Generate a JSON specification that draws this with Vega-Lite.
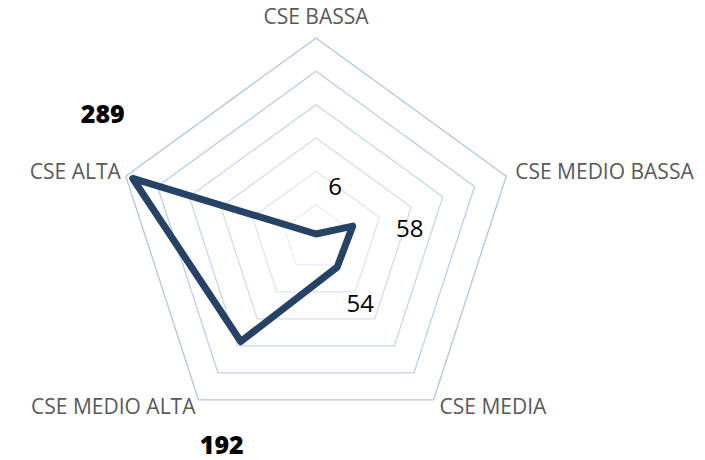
{
  "$schema": "https://vega.github.io/schema/vega-lite/v6.json",
  "width": 705,
  "height": 460,
  "padding": 0,
  "autosize": {"type": "fit", "contains": "padding"},
  "background": "white",
  "config": {"view": {"stroke": null}, "font": "Open Sans"},
  "datasets": {
    "cse": [
      {"cat": "CSE BASSA", "idx": 0, "value": 6},
      {"cat": "CSE MEDIO BASSA", "idx": 1, "value": 58},
      {"cat": "CSE MEDIA", "idx": 2, "value": 54},
      {"cat": "CSE MEDIO ALTA", "idx": 3, "value": 192},
      {"cat": "CSE ALTA", "idx": 4, "value": 289}
    ],
    "rings": [
      {"ring": 50, "k": [0, 1, 2, 3, 4]},
      {"ring": 100, "k": [0, 1, 2, 3, 4]},
      {"ring": 150, "k": [0, 1, 2, 3, 4]},
      {"ring": 200, "k": [0, 1, 2, 3, 4]},
      {"ring": 250, "k": [0, 1, 2, 3, 4]},
      {"ring": 300, "k": [0, 1, 2, 3, 4]}
    ]
  },
  "encoding": {
    "x": {"field": "x", "type": "quantitative", "scale": {"domain": [-474, 583.5], "nice": false, "zero": false}, "axis": null},
    "y": {"field": "y", "type": "quantitative", "scale": {"domain": [-333, 357], "nice": false, "zero": false}, "axis": null}
  },
  "layer": [
    {
      "data": {"name": "rings"},
      "transform": [
        {"flatten": ["k"]},
        {"calculate": "datum.k * 2 * PI / 5", "as": "a"},
        {"calculate": "datum.ring * sin(datum.a)", "as": "x"},
        {"calculate": "datum.ring * cos(datum.a)", "as": "y"}
      ],
      "mark": {"type": "line", "interpolate": "linear-closed", "strokeWidth": 1.3},
      "encoding": {
        "detail": {"field": "ring", "type": "ordinal"},
        "order": {"field": "k", "type": "quantitative"},
        "color": {"field": "ring", "type": "ordinal", "legend": null,
          "scale": {"domain": [50, 100, 150, 200, 250, 300], "range": ["#e6ecf6", "#dde5f3", "#d2ddf0", "#c8d6ed", "#bdcdea", "#b2c5e6"]}}
      }
    },
    {
      "data": {"name": "cse"},
      "transform": [
        {"calculate": "datum.idx * 2 * PI / 5", "as": "a"},
        {"calculate": "datum.value * sin(datum.a)", "as": "x"},
        {"calculate": "datum.value * cos(datum.a)", "as": "y"}
      ],
      "mark": {"type": "line", "interpolate": "linear-closed", "strokeWidth": 7, "color": "#264366", "strokeJoin": "round"},
      "encoding": {"order": {"field": "idx", "type": "quantitative"}}
    },
    {
      "data": {"name": "cse"},
      "transform": [
        {"calculate": "datum.idx * 2 * PI / 5", "as": "a"},
        {"calculate": "300 * sin(datum.a)", "as": "x"},
        {"calculate": "300 * cos(datum.a)", "as": "y"},
        {"filter": "datum.idx == 0"}
      ],
      "mark": {"type": "text", "align": "center", "baseline": "bottom", "dy": -10, "fontSize": 21, "color": "#595959"},
      "encoding": {"text": {"field": "cat"}}
    },
    {
      "data": {"name": "cse"},
      "transform": [
        {"calculate": "datum.idx * 2 * PI / 5", "as": "a"},
        {"calculate": "300 * sin(datum.a)", "as": "x"},
        {"calculate": "300 * cos(datum.a)", "as": "y"},
        {"filter": "datum.idx == 1"}
      ],
      "mark": {"type": "text", "align": "left", "baseline": "middle", "dx": 9, "dy": -3, "fontSize": 21, "color": "#595959"},
      "encoding": {"text": {"field": "cat"}}
    },
    {
      "data": {"name": "cse"},
      "transform": [
        {"calculate": "datum.idx * 2 * PI / 5", "as": "a"},
        {"calculate": "300 * sin(datum.a)", "as": "x"},
        {"calculate": "300 * cos(datum.a)", "as": "y"},
        {"filter": "datum.idx == 2"}
      ],
      "mark": {"type": "text", "align": "left", "baseline": "middle", "dx": 6, "dy": 8, "fontSize": 21, "color": "#595959"},
      "encoding": {"text": {"field": "cat"}}
    },
    {
      "data": {"name": "cse"},
      "transform": [
        {"calculate": "datum.idx * 2 * PI / 5", "as": "a"},
        {"calculate": "300 * sin(datum.a)", "as": "x"},
        {"calculate": "300 * cos(datum.a)", "as": "y"},
        {"filter": "datum.idx == 3"}
      ],
      "mark": {"type": "text", "align": "right", "baseline": "middle", "dx": -3, "dy": 8, "fontSize": 21, "color": "#595959"},
      "encoding": {"text": {"field": "cat"}}
    },
    {
      "data": {"name": "cse"},
      "transform": [
        {"calculate": "datum.idx * 2 * PI / 5", "as": "a"},
        {"calculate": "300 * sin(datum.a)", "as": "x"},
        {"calculate": "300 * cos(datum.a)", "as": "y"},
        {"filter": "datum.idx == 4"}
      ],
      "mark": {"type": "text", "align": "right", "baseline": "middle", "dx": -5, "dy": -3, "fontSize": 21, "color": "#595959"},
      "encoding": {"text": {"field": "cat"}}
    },
    {
      "data": {"name": "cse"},
      "transform": [
        {"calculate": "datum.idx * 2 * PI / 5", "as": "a"},
        {"calculate": "datum.value * sin(datum.a)", "as": "x"},
        {"calculate": "datum.value * cos(datum.a)", "as": "y"},
        {"filter": "datum.idx == 0"}
      ],
      "mark": {"type": "text", "align": "center", "baseline": "middle", "dx": 19, "dy": -46, "fontSize": 24, "color": "#000000"},
      "encoding": {"text": {"field": "value"}}
    },
    {
      "data": {"name": "cse"},
      "transform": [
        {"calculate": "datum.idx * 2 * PI / 5", "as": "a"},
        {"calculate": "datum.value * sin(datum.a)", "as": "x"},
        {"calculate": "datum.value * cos(datum.a)", "as": "y"},
        {"filter": "datum.idx == 1"}
      ],
      "mark": {"type": "text", "align": "center", "baseline": "middle", "dx": 57, "dy": 4, "fontSize": 24, "color": "#000000"},
      "encoding": {"text": {"field": "value"}}
    },
    {
      "data": {"name": "cse"},
      "transform": [
        {"calculate": "datum.idx * 2 * PI / 5", "as": "a"},
        {"calculate": "datum.value * sin(datum.a)", "as": "x"},
        {"calculate": "datum.value * cos(datum.a)", "as": "y"},
        {"filter": "datum.idx == 2"}
      ],
      "mark": {"type": "text", "align": "center", "baseline": "middle", "dx": 23, "dy": 38, "fontSize": 24, "color": "#000000"},
      "encoding": {"text": {"field": "value"}}
    },
    {
      "data": {"name": "cse"},
      "transform": [
        {"calculate": "datum.idx * 2 * PI / 5", "as": "a"},
        {"calculate": "datum.value * sin(datum.a)", "as": "x"},
        {"calculate": "datum.value * cos(datum.a)", "as": "y"},
        {"filter": "datum.idx == 3"}
      ],
      "mark": {"type": "text", "align": "center", "baseline": "middle", "dx": -19, "dy": 104, "fontSize": 25, "fontWeight": 900, "color": "#000000"},
      "encoding": {"text": {"field": "value"}}
    },
    {
      "data": {"name": "cse"},
      "transform": [
        {"calculate": "datum.idx * 2 * PI / 5", "as": "a"},
        {"calculate": "datum.value * sin(datum.a)", "as": "x"},
        {"calculate": "datum.value * cos(datum.a)", "as": "y"},
        {"filter": "datum.idx == 4"}
      ],
      "mark": {"type": "text", "align": "center", "baseline": "middle", "dx": -30, "dy": -63, "fontSize": 25, "fontWeight": 900, "color": "#000000"},
      "encoding": {"text": {"field": "value"}}
    }
  ]
}
